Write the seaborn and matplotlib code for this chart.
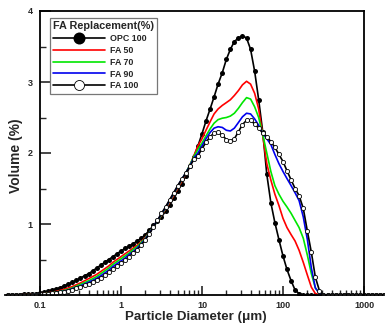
import numpy as np
import matplotlib
matplotlib.use('Agg')
import matplotlib.pyplot as plt
import seaborn as sns

# particle size classes (um)
size = [0.0398, 0.0447, 0.0501, 0.0562, 0.0631, 0.0708, 0.0794, 0.0891,
        0.1, 0.112, 0.126, 0.141, 0.158, 0.178, 0.2, 0.224, 0.251, 0.282,
        0.316, 0.355, 0.398, 0.447, 0.501, 0.562, 0.631, 0.708, 0.794, 0.891,
        1.0, 1.12, 1.26, 1.41, 1.58, 1.78, 2.0, 2.24, 2.51, 2.82,
        3.16, 3.55, 3.98, 4.47, 5.01, 5.62, 6.31, 7.08, 7.94, 8.91,
        10.0, 11.2, 12.6, 14.1, 15.8, 17.8, 20.0, 22.4, 25.1, 28.2,
        31.6, 35.5, 39.8, 44.7, 50.1, 56.2, 63.1, 70.8, 79.4, 89.1,
        100, 112, 126, 141, 158, 178, 200, 224, 251, 282,
        316, 355, 398, 447, 501, 562, 631, 708, 794, 891,
        1000, 1122, 1259, 1413, 1585, 1778]

opc100 = [0, 0, 0, 0.005, 0.01, 0.01, 0.015, 0.02,
          0.03, 0.04, 0.055, 0.07, 0.085, 0.105, 0.13, 0.155, 0.18, 0.21,
          0.24, 0.27, 0.30, 0.34, 0.38, 0.42, 0.46, 0.50, 0.54, 0.58,
          0.62, 0.655, 0.69, 0.72, 0.76, 0.80, 0.85, 0.91, 0.98, 1.04,
          1.10, 1.18, 1.27, 1.36, 1.46, 1.57, 1.68, 1.81, 1.95, 2.10,
          2.27, 2.45, 2.62, 2.79, 2.97, 3.13, 3.32, 3.46, 3.57, 3.62,
          3.65, 3.62, 3.46, 3.15, 2.75, 2.30, 1.70, 1.30, 1.02, 0.78,
          0.55, 0.36, 0.20, 0.07, 0.02, 0, 0, 0, 0, 0,
          0, 0, 0, 0, 0, 0, 0, 0, 0, 0,
          0, 0, 0, 0, 0, 0]

fa50 = [0, 0, 0, 0, 0.005, 0.005, 0.01, 0.01,
        0.015, 0.02, 0.03, 0.04, 0.05, 0.065, 0.08, 0.10, 0.12, 0.145,
        0.17, 0.20, 0.23, 0.26, 0.29, 0.33, 0.37, 0.41, 0.46, 0.50,
        0.54, 0.58, 0.62, 0.66, 0.70, 0.75, 0.81, 0.88, 0.96, 1.04,
        1.12, 1.21, 1.30, 1.40, 1.50, 1.60, 1.71, 1.83, 1.96, 2.10,
        2.20, 2.32, 2.44, 2.55, 2.62, 2.67, 2.71, 2.75, 2.81, 2.88,
        2.96, 3.01, 2.97, 2.84, 2.62, 2.25, 1.85, 1.62, 1.42, 1.26,
        1.08, 0.95, 0.85, 0.76, 0.63, 0.46, 0.28, 0.11, 0.02, 0,
        0, 0, 0, 0, 0, 0, 0, 0, 0, 0,
        0, 0, 0, 0, 0, 0]

fa70 = [0, 0, 0, 0, 0, 0.005, 0.005, 0.01,
        0.012, 0.017, 0.025, 0.033, 0.042, 0.053, 0.065, 0.08, 0.10, 0.125,
        0.15, 0.175, 0.20, 0.23, 0.26, 0.30, 0.34, 0.38, 0.43, 0.47,
        0.51, 0.55, 0.59, 0.64, 0.68, 0.74, 0.80, 0.88, 0.96, 1.04,
        1.13, 1.22, 1.32, 1.42, 1.52, 1.62, 1.72, 1.83, 1.95, 2.05,
        2.14, 2.24, 2.34, 2.42, 2.47, 2.49, 2.50, 2.52, 2.56, 2.63,
        2.71, 2.78, 2.76, 2.65, 2.50, 2.26, 2.00, 1.74, 1.54, 1.42,
        1.32, 1.24, 1.15, 1.05, 0.95, 0.80, 0.56, 0.30, 0.10, 0.02,
        0, 0, 0, 0, 0, 0, 0, 0, 0, 0,
        0, 0, 0, 0, 0, 0]

fa90 = [0, 0, 0, 0, 0, 0, 0.005, 0.008,
        0.01, 0.014, 0.02, 0.027, 0.035, 0.045, 0.055, 0.07, 0.09, 0.11,
        0.13, 0.155, 0.18, 0.205, 0.235, 0.27, 0.31, 0.35, 0.40, 0.44,
        0.48, 0.52, 0.57, 0.61, 0.66, 0.72, 0.79, 0.87, 0.96, 1.05,
        1.14, 1.23, 1.33, 1.43, 1.53, 1.63, 1.72, 1.82, 1.93, 2.00,
        2.10, 2.20, 2.29, 2.35, 2.37, 2.36, 2.32, 2.31, 2.35, 2.43,
        2.51, 2.56, 2.55, 2.48, 2.39, 2.28, 2.20, 2.12, 1.98, 1.85,
        1.74, 1.64, 1.54, 1.44, 1.33, 1.10, 0.78, 0.38, 0.10, 0.02,
        0, 0, 0, 0, 0, 0, 0, 0, 0, 0,
        0, 0, 0, 0, 0, 0]

fa100 = [0, 0, 0, 0, 0, 0, 0, 0.005,
         0.008, 0.011, 0.016, 0.022, 0.029, 0.037, 0.045, 0.058, 0.075, 0.095,
         0.115, 0.135, 0.16, 0.185, 0.21, 0.245, 0.28, 0.32, 0.37, 0.41,
         0.45, 0.49, 0.54, 0.59, 0.64, 0.70, 0.78, 0.86, 0.96, 1.05,
         1.15, 1.24, 1.34, 1.44, 1.54, 1.63, 1.72, 1.81, 1.91, 1.96,
         2.06, 2.15, 2.23, 2.28, 2.29, 2.25, 2.19, 2.17, 2.20, 2.30,
         2.40, 2.46, 2.46, 2.41, 2.35, 2.28, 2.23, 2.16, 2.08, 1.98,
         1.88, 1.75, 1.62, 1.50, 1.40, 1.22, 0.90, 0.60, 0.25, 0.06,
         0, 0, 0, 0, 0, 0, 0, 0, 0, 0,
         0, 0, 0, 0, 0, 0]

x_major = [0.1, 1, 10, 100, 1000]
x_major_labels = ['0.1', '1', '10', '100', '1000']
y_major = [1, 2, 3, 4]

sns.set_style('ticks')
plt.rcParams['font.family'] = ['Liberation Sans', 'DejaVu Sans']
plt.rcParams['font.weight'] = 'bold'

fig = plt.figure(figsize=(3.85, 3.3), dpi=100)
ax = fig.add_axes([5/385, 35/330, 379/385, 284/330])

estilos = [
    ('OPC 100', opc100, dict(color='black', marker='o', markersize=3.6, markerfacecolor='black', markeredgewidth=0)),
    ('FA 50', fa50, dict(color='#ff0000')),
    ('FA 70', fa70, dict(color='#00e600')),
    ('FA 90', fa90, dict(color='#0000ee')),
    ('FA 100', fa100, dict(color='black', marker='o', markersize=3.0, markerfacecolor='white',
                           markeredgecolor='black', markeredgewidth=0.6)),
]
for nombre, valores, kw in estilos:
    sns.lineplot(x=size, y=valores, ax=ax, label=nombre, linewidth=1.2, **kw)

ax.set_xscale('log')
ax.set_xlim(0.037, 1766)
ax.set_ylim(0, 4)

# frame: y axis at 0.1, right edge at 1000, bottom axis full width
ax.spines['left'].set_position(('data', 0.1))
ax.spines['right'].set_position(('data', 1000))
ax.spines['top'].set_bounds(0.1, 1000)
for s in ax.spines.values():
    s.set_visible(True)
    s.set_linewidth(1.3)
    s.set_color('black')

ax.set_xticks(x_major)
ax.set_xticklabels(x_major_labels)
ax.set_xticks([k * 10.0**e for e in range(-1, 3) for k in range(2, 10)], minor=True)
ax.set_yticks(y_major)
ax.set_yticks([0.5, 1.5, 2.5, 3.5], minor=True)

ax.tick_params(axis='x', which='major', direction='in', length=6.5, width=1.2, labelsize=6.5, pad=4,
               top=False)
ax.tick_params(axis='x', which='minor', direction='in', length=3.6, width=1.0, top=False)
ax.tick_params(axis='y', which='major', direction='in', length=8, width=1.2, labelsize=6.5, pad=5,
               right=False)
ax.tick_params(axis='y', which='minor', direction='in', length=4.3, width=1.0, right=False)
for lab in ax.get_xticklabels() + ax.get_yticklabels():
    lab.set_fontweight('bold')

ax.set_xlabel('Particle Diameter (μm)', fontsize=9.6, fontweight='bold')
ax.set_ylabel('Volume (%)', fontsize=10, fontweight='bold')
ax.xaxis.set_label_coords(0.504, -0.055)
ax.yaxis.set_label_coords(0.047, 0.49)

leg = ax.legend(title='FA Replacement(%)', loc='upper left', bbox_to_anchor=(0.119, 0.975),
                borderaxespad=0, fancybox=False, framealpha=1, edgecolor='#777777',
                fontsize=6.4, title_fontsize=7.8, handlelength=5.8, handletextpad=0.55,
                labelspacing=0.32, borderpad=0.35, markerscale=2.4, alignment='left')
leg.get_frame().set_linewidth(0.9)
leg.get_title().set_fontweight('bold')
for t in leg.get_texts():
    t.set_fontweight('bold')

plt.savefig('out.png', dpi=100)
plt.close()
